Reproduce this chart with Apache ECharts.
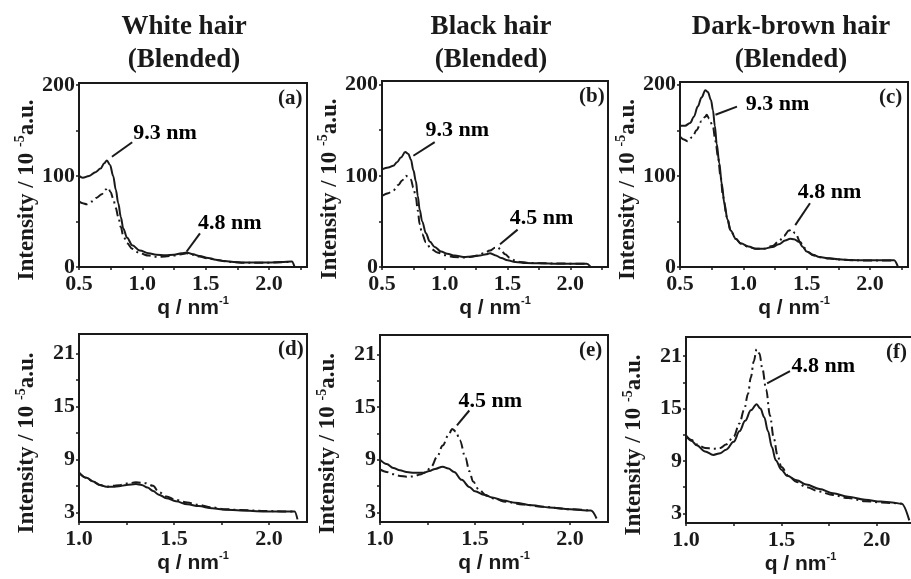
<!DOCTYPE html>
<html>
<head>
<meta charset="utf-8">
<script src="https://cdn.jsdelivr.net/npm/echarts@6/dist/echarts.min.js"></script>
<style>
html, body { margin: 0; padding: 0; background: #ffffff; }
#chart { width: 911px; height: 579px; }
</style>
</head>
<body>
<div id="chart"></div>
<script>
// Scattering profiles of blended hair samples: intensity vs. q,
// solid line and dash-dot line per panel.

const columnTitles = ['White hair\n(Blended)', 'Black hair\n(Blended)', 'Dark-brown hair\n(Blended)'];
const panelTags = ['(a)', '(b)', '(c)', '(d)', '(e)', '(f)'];

// tick values
const wideQLabels = [0.5, 1.0, 1.5, 2.0];
const wideQTicks = [0.5, 0.75, 1.0, 1.25, 1.5, 1.75, 2.0, 2.25];
const wideILabels = [0, 100, 200];
const wideITicks = [0, 50, 100, 150, 200];
const narrowQLabels = [1.0, 1.5, 2.0];
const narrowQTicks = [1.0, 1.25, 1.5, 1.75, 2.0];
const narrowILabels = [3, 9, 15, 21];
const narrowITicks = [3, 6, 9, 12, 15, 18, 21];

// (a) white hair, q 0.5-2.2
const whiteWideSolid = [[0.50,100],[0.53,98],[0.58,100],[0.63,104],[0.67,108],[0.70,114],[0.72,117],[0.745,112],[0.77,100],[0.79,85],[0.81,70],[0.83,55],[0.85,42],[0.88,32],[0.92,24],[0.98,18],[1.05,15],[1.11,13.5],[1.18,13],[1.25,13.5],[1.31,15],[1.35,16],[1.40,14],[1.45,12],[1.52,10],[1.58,8],[1.65,6.5],[1.72,5.5],[1.80,5],[1.90,5],[2.00,5],[2.10,5.5],[2.18,6],[2.20,1]];
const whiteWideDash = [[0.50,72],[0.53,70],[0.56,69],[0.60,72],[0.64,76],[0.68,80],[0.71,85],[0.73,87],[0.75,82],[0.77,75],[0.79,65],[0.81,55],[0.83,44],[0.85,34],[0.88,26],[0.92,20],[0.98,15],[1.05,12.5],[1.12,11],[1.18,11.5],[1.25,12.5],[1.31,14],[1.35,15],[1.40,13.5],[1.45,11.5],[1.52,9.5],[1.58,7.8],[1.65,6.3],[1.72,5.3],[1.80,4.8],[1.90,4.8],[2.00,4.8],[2.10,5.2],[2.18,5.8]];

// (b) black hair
const blackWideSolid = [[0.50,107],[0.55,109],[0.59,111],[0.62,115],[0.65,120],[0.685,126],[0.71,124],[0.73,118],[0.75,106],[0.77,94],[0.785,78],[0.80,63],[0.82,50],[0.85,37],[0.88,28],[0.92,22],[0.97,17],[1.02,14.5],[1.08,12.5],[1.15,11],[1.22,11.5],[1.28,12.5],[1.33,14],[1.36,15],[1.40,13],[1.45,10],[1.50,7.5],[1.56,5.5],[1.65,4.4],[1.75,4],[1.90,3.6],[2.00,3.6],[2.13,3.6],[2.16,0.5]];
const blackWideDash = [[0.50,78],[0.55,81],[0.59,84],[0.63,90],[0.66,95],[0.69,100],[0.71,99],[0.73,96],[0.75,87],[0.77,76],[0.785,62],[0.80,47],[0.82,36],[0.85,27],[0.89,20],[0.94,16],[1.00,13],[1.07,11],[1.15,10.5],[1.20,11],[1.26,12.5],[1.31,15],[1.36,18],[1.40,21],[1.42,22],[1.45,18],[1.48,14],[1.52,10],[1.56,7],[1.60,5.5],[1.68,4.5],[1.80,4],[1.90,3.8],[2.00,3.7],[2.13,3.6]];

// (c) dark-brown hair
const brownWideSolid = [[0.50,155],[0.54,155],[0.58,158],[0.61,165],[0.64,176],[0.67,186],[0.70,194],[0.72,192],[0.745,183],[0.76,172],[0.775,155],[0.79,135],[0.81,114],[0.83,91],[0.85,70],[0.875,52],[0.90,40],[0.94,31],[0.98,26],[1.04,22.5],[1.10,20],[1.16,20],[1.23,22],[1.28,25],[1.33,29],[1.37,31],[1.40,30.5],[1.44,27.5],[1.47,22],[1.50,17],[1.55,13.5],[1.60,11],[1.68,9.5],[1.75,8.4],[1.85,7.6],[1.96,7.3],[2.10,7.3],[2.19,7.3],[2.22,0.5]];
const brownWideDash = [[0.50,143],[0.53,140],[0.56,138],[0.60,143],[0.63,150],[0.67,160],[0.70,165],[0.71,167],[0.73,163],[0.76,154],[0.78,138],[0.80,121],[0.82,100],[0.84,77],[0.87,55],[0.90,40],[0.94,31],[0.98,25.5],[1.04,22],[1.10,20],[1.16,20],[1.23,23],[1.28,28],[1.32,34],[1.36,40],[1.38,41],[1.41,37],[1.45,27.5],[1.48,21],[1.51,16.5],[1.55,13],[1.60,10.8],[1.68,9.3],[1.75,8.3],[1.85,7.5],[1.96,7.2],[2.10,7.2],[2.19,7.2]];

// (d) white hair, q 1.0-2.2
const whiteNarrowSolid = [[1.00,7.5],[1.04,6.9],[1.075,6.5],[1.11,6.1],[1.144,5.9],[1.18,5.9],[1.21,5.95],[1.25,6.1],[1.30,6.2],[1.33,6.1],[1.36,5.8],[1.39,5.4],[1.42,5.0],[1.46,4.6],[1.51,4.25],[1.57,3.9],[1.63,3.7],[1.70,3.45],[1.77,3.3],[1.85,3.2],[1.98,3.1],[2.07,3.1],[2.135,3.1],[2.15,2.2]];
const whiteNarrowDash = [[1.00,7.5],[1.04,6.9],[1.075,6.45],[1.11,6.1],[1.144,5.9],[1.18,6.0],[1.21,6.05],[1.25,6.25],[1.30,6.4],[1.35,6.3],[1.39,6.0],[1.42,5.3],[1.46,4.8],[1.51,4.4],[1.57,4.1],[1.63,3.85],[1.70,3.55],[1.77,3.35],[1.85,3.25],[1.98,3.15],[2.07,3.1],[2.135,3.1]];

// (e) black hair
const blackNarrowSolid = [[1.00,9],[1.035,8.5],[1.07,8.06],[1.105,7.8],[1.14,7.6],[1.18,7.5],[1.23,7.5],[1.26,7.7],[1.29,7.95],[1.33,8.2],[1.36,8.0],[1.39,7.6],[1.43,6.7],[1.47,5.9],[1.50,5.4],[1.55,5.0],[1.59,4.7],[1.65,4.35],[1.71,4.1],[1.80,3.8],[1.89,3.56],[2.00,3.35],[2.11,3.2],[2.14,2.3]];
const blackNarrowDash = [[1.00,7.9],[1.035,7.6],[1.07,7.35],[1.105,7.15],[1.14,7.05],[1.18,7.1],[1.21,7.3],[1.24,7.55],[1.27,8.2],[1.30,9.3],[1.33,10.6],[1.36,11.8],[1.38,12.5],[1.40,12.2],[1.42,11.2],[1.45,9.2],[1.47,7.7],[1.49,6.5],[1.52,5.6],[1.56,4.9],[1.61,4.5],[1.66,4.2],[1.75,3.9],[1.85,3.65],[2.00,3.35],[2.11,3.2]];

// (f) dark-brown hair
const brownNarrowSolid = [[1.00,11.9],[1.03,11.3],[1.056,10.8],[1.10,10.1],[1.143,9.7],[1.18,9.9],[1.21,10.3],[1.25,11.2],[1.28,12.4],[1.31,13.6],[1.34,14.8],[1.37,15.5],[1.39,15.0],[1.41,14.0],[1.43,12.4],[1.45,10.6],[1.47,9.1],[1.50,8.0],[1.53,7.3],[1.58,6.8],[1.63,6.3],[1.70,5.8],[1.77,5.3],[1.85,4.9],[1.94,4.55],[2.02,4.35],[2.08,4.25],[2.13,4.1],[2.17,2.2]];
const brownNarrowDash = [[1.00,11.9],[1.03,11.4],[1.056,10.9],[1.10,10.5],[1.143,10.4],[1.18,10.5],[1.21,10.9],[1.25,11.8],[1.28,13.3],[1.305,14.9],[1.325,16.7],[1.34,18.6],[1.355,20.4],[1.37,21.8],[1.385,21.3],[1.40,19.6],[1.42,17.2],[1.44,14.2],[1.46,11.6],[1.48,9.6],[1.50,8.3],[1.54,7.2],[1.58,6.6],[1.63,6.0],[1.70,5.5],[1.77,5.1],[1.85,4.75],[1.94,4.4],[2.02,4.25],[2.08,4.2],[2.13,4.1]];

// peak callouts: [text q, text I, label, arrow tail q, tail I, head q, head I]
const calloutsA = [[1.18,147,'9.3 nm',0.92,137,0.76,121],[1.69,48,'4.8 nm',1.455,37,1.35,17]];
const calloutsB = [[1.10,150,'9.3 nm',0.92,137,0.75,122],[1.77,53,'4.5 nm',1.58,41,1.44,25]];
const calloutsC = [[1.27,178,'9.3 nm',0.95,176,0.78,167],[1.68,82,'4.8 nm',1.526,70,1.41,46]];
const calloutsD = [];
const calloutsE = [[1.58,15.6,'4.5 nm',1.47,14.6,1.405,12.9]];
const calloutsF = [[1.72,19.9,'4.8 nm',1.545,19.3,1.425,17.9]];

const SERIF = '"Liberation Serif", "Times New Roman", serif';
const SANS = '"Liberation Sans", Arial, sans-serif';
const INK = '#1a1a1a';

const panels = [
  { solid: whiteWideSolid, dash: whiteWideDash, notes: calloutsA, wide: true, yMax: 202,
    box: { left: 79, top: 83, width: 228, height: 184 } },
  { solid: blackWideSolid, dash: blackWideDash, notes: calloutsB, wide: true, yMax: 204,
    box: { left: 382, top: 81, width: 226, height: 186 } },
  { solid: brownWideSolid, dash: brownWideDash, notes: calloutsC, wide: true, yMax: 203,
    box: { left: 680, top: 82, width: 228, height: 185 } },
  { solid: whiteNarrowSolid, dash: whiteNarrowDash, notes: calloutsD, wide: false,
    box: { left: 79, top: 334, width: 228, height: 188 } },
  { solid: blackNarrowSolid, dash: blackNarrowDash, notes: calloutsE, wide: false,
    box: { left: 380, top: 335, width: 228, height: 187 } },
  { solid: brownNarrowSolid, dash: brownNarrowDash, notes: calloutsF, wide: false,
    box: { left: 686, top: 337, width: 229, height: 186 } }
];

const grid = [], xAxis = [], yAxis = [], series = [];
const title = [];

const boldSerif = (size) => ({ fontFamily: SERIF, fontWeight: 'bold', fontSize: size, color: INK });

panels.forEach((p, i) => {
  grid.push(Object.assign({
    show: true, borderColor: INK, borderWidth: 2, backgroundColor: 'transparent',
    outerBoundsMode: 'none', containLabel: false
  }, p.box));

  xAxis.push({
    type: 'value', gridIndex: i,
    min: p.wide ? 0.5 : 1.0, max: p.wide ? 2.3 : 2.2,
    axisLine: { show: true, onZero: false, lineStyle: { color: INK, width: 2 } },
    axisTick: { show: true, inside: false, length: 3, customValues: p.wide ? wideQTicks : narrowQTicks,
                lineStyle: { color: INK, width: 1.5 } },
    axisLabel: { show: true, customValues: p.wide ? wideQLabels : narrowQLabels, margin: 6,
                 formatter: (v) => v.toFixed(1), fontFamily: SERIF, fontWeight: 'bold', fontSize: 22, color: INK },
    splitLine: { show: false },
    name: '{a|q / nm}{s|-1}', nameLocation: 'middle', nameGap: p.wide ? 20 : 28,
    nameTextStyle: {
      rich: {
        a: { fontFamily: SANS, fontWeight: 'bold', fontSize: 21, color: INK, lineHeight: 24 },
        s: { fontFamily: SANS, fontWeight: 'bold', fontSize: 11, color: INK, verticalAlign: 'top', lineHeight: 24 }
      }
    }
  });

  yAxis.push({
    type: 'value', gridIndex: i,
    min: p.wide ? 0 : 1.9, max: p.wide ? p.yMax : 23.2,
    axisLine: { show: true, onZero: false, lineStyle: { color: INK, width: 2 } },
    axisTick: { show: true, inside: false, length: 3, customValues: p.wide ? wideITicks : narrowITicks,
                lineStyle: { color: INK, width: 1.5 } },
    axisLabel: { show: true, customValues: p.wide ? wideILabels : narrowILabels, margin: 4,
                 fontFamily: SERIF, fontWeight: 'bold', fontSize: 22, color: INK },
    splitLine: { show: false },
    name: '{a|Intensity / 10 }{s|-5}{a|a.u.}', nameLocation: 'middle', nameRotate: 90,
    nameGap: 38,
    nameTextStyle: {
      padding: [0, 30, 0, 0],
      rich: {
        a: { fontFamily: SERIF, fontWeight: 'bold', fontSize: 23, color: INK, lineHeight: 27 },
        s: { fontFamily: SERIF, fontWeight: 'bold', fontSize: 14, color: INK, verticalAlign: 'top', lineHeight: 27 }
      }
    }
  });

  const common = { type: 'line', xAxisIndex: i, yAxisIndex: i, showSymbol: false, symbol: 'none',
                   smooth: 0.35, smoothMonotone: 'x', silent: true, animation: false };

  series.push(Object.assign({}, common, {
    data: p.dash, z: 2,
    lineStyle: { color: INK, width: 2, type: [9, 4, 2, 4] }
  }));

  series.push(Object.assign({}, common, {
    data: p.solid, z: 3,
    lineStyle: { color: INK, width: 2, type: 'solid' },
    markLine: p.notes.length ? {
      silent: true, animation: false,
      symbol: ['none', 'arrow'], symbolSize: [0, 11],
      lineStyle: { color: INK, width: 2, type: 'solid' },
      label: { show: false },
      data: p.notes.map(n => [{ coord: [n[3], n[4]] }, { coord: [n[5], n[6]] }])
    } : undefined
  }));

  if (p.notes.length) {
    series.push({
      type: 'scatter', xAxisIndex: i, yAxisIndex: i, symbolSize: 0, silent: true, animation: false,
      itemStyle: { opacity: 1, color: INK },
      data: p.notes.map(n => ({ name: n[2], value: [n[0], n[1]] })),
      label: { show: true, position: 'inside', formatter: (d) => d.name, opacity: 1,
               fontFamily: SERIF, fontWeight: 'bold', fontSize: 22, color: '#000000' }
    });
  }

  title.push({
    text: panelTags[i], left: p.box.left + p.box.width - 29, top: p.box.top + 5, padding: 0,
    textStyle: boldSerif(21)
  });
});

// column headings over the upper row
[184, 491, 791].forEach((cx, k) => {
  title.push({
    text: columnTitles[k], left: cx, top: 11, textAlign: 'center', padding: 0,
    textStyle: Object.assign(boldSerif(27), { lineHeight: 33 })
  });
});

const chart = echarts.init(document.getElementById('chart'), null, { renderer: 'canvas' });
chart.setOption({
  backgroundColor: '#ffffff',
  animation: false,
  title, grid, xAxis, yAxis, series
});
</script>
</body>
</html>
